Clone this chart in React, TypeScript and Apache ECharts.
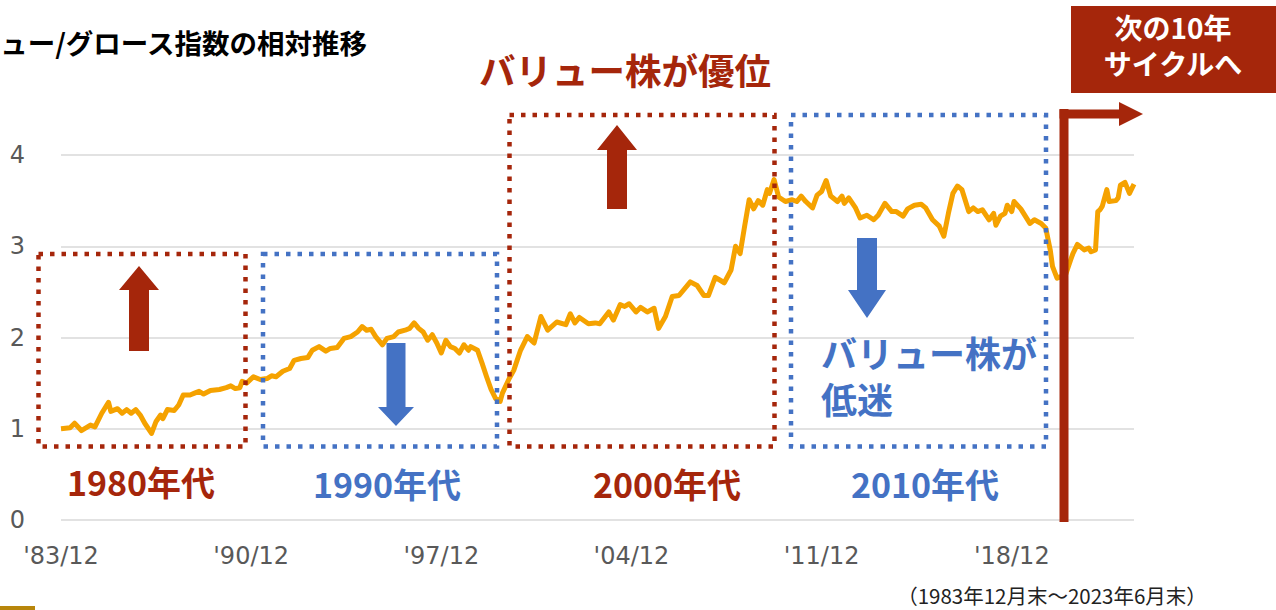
import React, { useEffect, useRef } from 'react';
import * as echarts from 'echarts';

// month index from 1983/12 (=0) to 2023/6 (=474)
const months = [
  0, 4, 6, 9, 13, 15, 18, 21, 22, 25, 27, 29, 31, 33, 35, 37, 40, 42, 44, 45, 47, 50, 52, 54, 57, 59, 61, 63, 66, 70,
  73, 75, 77, 79, 80, 82, 85, 88, 91, 93, 95, 98, 101, 103, 106, 109, 111, 114, 117, 119, 122, 125, 128, 131, 133, 135,
  137, 139, 142, 144, 147, 149, 152, 154, 156, 158, 160, 162, 164, 166, 168, 170, 172, 174, 176, 178, 180, 181, 184,
  186, 188, 190, 192, 194, 195, 198, 200, 203, 206, 209, 212, 215, 219, 223, 225, 227, 229, 233, 236, 238, 242, 244,
  247, 249, 251, 254, 256, 259, 262, 264, 267, 270, 273, 278, 281, 284, 286, 289, 291, 293, 296, 298, 300, 302, 304,
  306, 308, 310, 312, 313, 315, 317, 320, 323, 325, 327, 329, 332, 334, 336, 338, 340, 343, 345, 346, 348, 351, 353,
  356, 359, 361, 364, 367, 369, 372, 374, 377, 380, 382, 385, 388, 390, 392, 394, 396, 398, 401, 403, 405, 407, 410,
  412, 413, 415, 417, 418, 420, 421, 424, 426, 428, 430, 433, 435, 437, 438, 440, 442, 443, 446, 447, 449, 452, 454,
  455, 457, 458, 459, 460, 462, 463, 466, 467, 468, 470, 472, 474,
];
const ratio = [
  1.0, 1.01, 1.06, 0.98, 1.04, 1.02, 1.17, 1.29, 1.19, 1.22, 1.17, 1.21, 1.17, 1.21, 1.15, 1.06, 0.95, 1.08, 1.15, 1.11,
  1.21, 1.2, 1.26, 1.37, 1.37, 1.39, 1.41, 1.38, 1.42, 1.43, 1.45, 1.47, 1.44, 1.45, 1.52, 1.5, 1.57, 1.54, 1.55, 1.58,
  1.57, 1.63, 1.66, 1.75, 1.77, 1.78, 1.86, 1.9, 1.85, 1.88, 1.89, 1.99, 2.01, 2.06, 2.12, 2.08, 2.09, 2.01, 1.92, 1.99,
  2.01, 2.06, 2.08, 2.1, 2.16, 2.1, 2.06, 1.97, 2.03, 1.94, 1.83, 1.97, 1.9, 1.88, 1.83, 1.92, 1.86, 1.9, 1.86, 1.72,
  1.57, 1.43, 1.33, 1.3, 1.39, 1.55, 1.64, 1.86, 2.01, 1.94, 2.23, 2.08, 2.17, 2.14, 2.26, 2.16, 2.22, 2.15, 2.16, 2.15,
  2.28, 2.19, 2.36, 2.34, 2.37, 2.28, 2.33, 2.28, 2.32, 2.1, 2.23, 2.45, 2.46, 2.61, 2.57, 2.46, 2.46, 2.66, 2.63, 2.6,
  2.74, 3.0, 2.92, 3.22, 3.51, 3.41, 3.5, 3.45, 3.62, 3.58, 3.73, 3.54, 3.49, 3.51, 3.49, 3.55, 3.49, 3.42, 3.56, 3.6,
  3.72, 3.55, 3.49, 3.55, 3.47, 3.53, 3.42, 3.31, 3.34, 3.29, 3.34, 3.47, 3.38, 3.38, 3.33, 3.41, 3.45, 3.46, 3.42, 3.29,
  3.22, 3.11, 3.36, 3.58, 3.66, 3.62, 3.38, 3.42, 3.38, 3.4, 3.29, 3.36, 3.23, 3.33, 3.36, 3.45, 3.38, 3.49, 3.41, 3.33,
  3.25, 3.29, 3.25, 3.2, 2.96, 2.78, 2.65, 2.67, 2.63, 2.85, 2.92, 3.02, 2.96, 2.98, 2.94, 2.96, 3.38, 3.4, 3.44, 3.62,
  3.49, 3.5, 3.53, 3.67, 3.7, 3.58, 3.68,
];
const xTickLabels = ["'83/12", "'90/12", "'97/12", "'04/12", "'11/12", "'18/12"];
const decadeLabels = ['1980年代', '1990年代', '2000年代', '2010年代'];
const titleText = 'ュー/グロース指数の相対推移';
const headline = 'バリュー株が優位';
const slumpLines = ['バリュー株が', '低迷'];
const nextCycleLines = ['次の10年', 'サイクルへ'];
const periodNote = '（1983年12月末～2023年6月末）';

const RED = '#A5260B';
const BLUE = '#4472C4';
const ORANGE = '#F5A200';
const JP = "'Noto Sans CJK JP', sans-serif";

function upArrow(cx: number, tip: number, base: number, hw: number, sw: number, end: number) {
  return [
    [cx, tip], [cx + hw, base], [cx + sw, base], [cx + sw, end], [cx - sw, end], [cx - sw, base], [cx - hw, base],
  ];
}

function txt(text: string, x: number, y: number, size: number, fill: string, align = 'center', lineHeight?: number) {
  return {
    type: 'text', x, y, z: 110,
    style: {
      text, fill, fontSize: size, fontWeight: 'bold', fontFamily: JP, align, verticalAlign: 'middle',
      lineHeight: lineHeight ?? Math.round(size * 1.2),
    },
  };
}

function dotted(x1: number, y1: number, x2: number, y2: number, color: string) {
  return {
    type: 'rect', z: 100,
    shape: { x: x1, y: y1, width: x2 - x1, height: y2 - y1 },
    style: { fill: 'none', stroke: color, lineWidth: 4.5, lineDash: [4.5, 7], lineCap: 'butt' },
  };
}

export default function App() {
  const ref = useRef<HTMLDivElement>(null);
  useEffect(() => {
    document.body.style.margin = '0';
    const chart = echarts.init(ref.current!, null, { renderer: 'svg' });
    const option: any = {
      animation: false,
      grid: { left: 61, right: 142, top: 155, bottom: 90 },
      xAxis: {
        type: 'value', min: 0, max: 474, interval: 84,
        axisLine: { show: false }, axisTick: { show: false }, splitLine: { show: false },
        axisLabel: {
          margin: 24, color: '#595959', fontSize: 24, fontFamily: 'DejaVu Sans',
          showMaxLabel: false,
          formatter: (v: number) => (v % 84 === 0 ? xTickLabels[v / 84] ?? '' : ''),
        },
      },
      yAxis: {
        type: 'value', min: 0, max: 4, interval: 1,
        axisLine: { show: false }, axisTick: { show: false },
        splitLine: { lineStyle: { color: '#D9D9D9', width: 1.5 } },
        axisLabel: { margin: 36, color: '#595959', fontSize: 24, fontFamily: 'DejaVu Sans' },
      },
      series: [
        {
          type: 'line', showSymbol: false, symbol: 'none', z: 2,
          data: months.map((m, i) => [m, ratio[i]]),
          lineStyle: { color: ORANGE, width: 5, join: 'round' },
        },
      ],
      graphic: [
        // title (its left part runs past the page edge, as in the original)
        { type: 'text', x: 367, y: 42, z: 110, style: { text: titleText, fill: '#000', fontSize: 27.5, fontWeight: 'bold', fontFamily: JP, align: 'right', verticalAlign: 'middle' } },
        txt(headline, 625, 69, 36.5, RED),
        // dotted decade boxes
        dotted(38.5, 254, 245.5, 446.5, RED),
        dotted(263, 254, 497, 446.5, BLUE),
        dotted(509.5, 115, 774.5, 446.5, RED),
        dotted(791, 115, 1046, 446.5, BLUE),
        // arrows
        { type: 'polygon', z: 105, shape: { points: upArrow(139, 266, 290, 20, 10, 351) }, style: { fill: RED } },
        { type: 'polygon', z: 105, shape: { points: upArrow(617, 125, 150, 20, 10, 209) }, style: { fill: RED } },
        { type: 'polygon', z: 105, shape: { points: upArrow(396, 426, 407, 18, 9.5, 343) }, style: { fill: BLUE } },
        { type: 'polygon', z: 105, shape: { points: upArrow(867, 318, 290, 19, 10, 238) }, style: { fill: BLUE } },
        // decade labels
        txt(decadeLabels[0], 141, 481, 34, RED),
        txt(decadeLabels[1], 387, 483, 34, BLUE),
        txt(decadeLabels[2], 667, 483, 34, RED),
        txt(decadeLabels[3], 925, 483, 34, BLUE),
        // slump text (two lines)
        txt(slumpLines.join('\n'), 821, 375, 36, BLUE, 'left', 46),
        // next-cycle box
        { type: 'rect', z: 100, shape: { x: 1071, y: 6, width: 205, height: 87 }, style: { fill: RED } },
        txt(nextCycleLines.join('\n'), 1173, 45, 28, '#FFFFFF', 'center', 36),
        // red bent arrow
        { type: 'rect', z: 100, shape: { x: 1059.5, y: 109, width: 9, height: 413 }, style: { fill: RED } },
        { type: 'rect', z: 100, shape: { x: 1059.5, y: 109.5, width: 62, height: 9 }, style: { fill: RED } },
        { type: 'polygon', z: 100, shape: { points: [[1119, 102], [1143, 114], [1119, 126]] }, style: { fill: RED } },
        // note
        { type: 'text', x: 1052, y: 595, z: 110, style: { text: periodNote, fill: '#222', fontSize: 20.5, fontFamily: JP, align: 'center', verticalAlign: 'middle', lineHeight: 22 } },
        // small gold bar bottom-left
        { type: 'rect', z: 100, shape: { x: 0, y: 606, width: 35, height: 4 }, style: { fill: '#B8860B' } },
      ],
    };
    chart.setOption(option);
    return () => chart.dispose();
  }, []);
  return <div ref={ref} style={{ width: 1276, height: 610 }} />;
}
